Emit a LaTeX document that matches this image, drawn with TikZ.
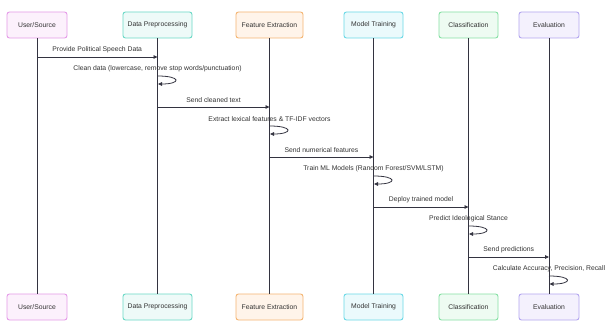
\documentclass[tikz,border=0pt]{standalone}
\usepackage{fontspec}
\setmainfont{Liberation Sans}
\usetikzlibrary{arrows.meta}
\definecolor{ink}{HTML}{333340}
\definecolor{txt}{HTML}{333333}
\definecolor{usb}{HTML}{E59AE8}\definecolor{usf}{HTML}{FCF1FC}
\definecolor{dpb}{HTML}{6AD8C6}\definecolor{dpf}{HTML}{EEFAF8}
\definecolor{feb}{HTML}{F4B572}\definecolor{fef}{HTML}{FFF4EA}
\definecolor{mtb}{HTML}{6AD8E6}\definecolor{mtf}{HTML}{EBFAFC}
\definecolor{clb}{HTML}{86E0A4}\definecolor{clf}{HTML}{EEFBF2}
\definecolor{evb}{HTML}{B3A6EF}\definecolor{evf}{HTML}{F4F1FD}
\tikzset{
  actor/.style={draw=#1, line width=0.9pt, rounded corners=2.5pt, minimum height=26pt, inner sep=0pt,
    font=\fontsize{6.8}{7}\selectfont, text=txt},
  life/.style={draw=ink, line width=0.8pt},
  msg/.style={draw=ink, line width=0.8pt, -{Triangle[length=4pt,width=3.6pt]}},
  lbl/.style={font=\fontsize{6.8}{7}\selectfont, text=txt, inner sep=0pt}
}
\begin{document}
\begin{tikzpicture}[x=1pt,y=-1pt]
\useasboundingbox[fill=white] (0,0) rectangle (606,321);
% top actors
\node[actor=usb, fill=usf, minimum width=60pt] (ut) at (37,25) {User/Source};
\node[actor=dpb, fill=dpf, minimum width=69pt] (dt) at (157.5,25) {Data Preprocessing};
\node[actor=feb, fill=fef, minimum width=67pt] (ft) at (269.5,25) {Feature Extraction};
\node[actor=mtb, fill=mtf, minimum width=59pt] (mt) at (373.5,25) {Model Training};
\node[actor=clb, fill=clf, minimum width=59pt] (ct) at (468.5,25) {Classification};
\node[actor=evb, fill=evf, minimum width=60pt] (et) at (549,25) {Evaluation};
% bottom actors
\node[actor=usb, fill=usf, minimum width=60pt] (ub) at (37,307) {User/Source};
\node[actor=dpb, fill=dpf, minimum width=69pt] (db) at (157.5,307) {Data Preprocessing};
\node[actor=feb, fill=fef, minimum width=67pt] (fb) at (269.5,307) {Feature Extraction};
\node[actor=mtb, fill=mtf, minimum width=59pt] (mb) at (373.5,307) {Model Training};
\node[actor=clb, fill=clf, minimum width=59pt] (cb) at (468.5,307) {Classification};
\node[actor=evb, fill=evf, minimum width=60pt] (eb) at (549,307) {Evaluation};
% lifelines
\foreach \a/\b in {ut/ub,dt/db,ft/fb,mt/mb,ct/cb,et/eb}
  \draw[life] (\a.south) -- (\b.north);
% y levels
\coordinate (y1) at (0,57);
\coordinate (y3) at (0,107);
\coordinate (y5) at (0,157);
\coordinate (y7) at (0,207);
\coordinate (y9) at (0,257);
% messages
\draw[msg] (ut |- y1) -- node[lbl, above=3.8pt] {Provide Political Speech Data} (dt |- y1);
\draw[msg] (dt |- y3) -- node[lbl, above=3.8pt] {Send cleaned text} (ft |- y3);
\draw[msg] (ft |- y5) -- node[lbl, above=3.8pt] {Send numerical features} (mt |- y5);
\draw[msg] (mt |- y7) -- node[lbl, above=3.8pt] {Deploy trained model} (ct |- y7);
\draw[msg] (ct |- y9) -- node[lbl, above=3.8pt] {Send predictions} (et |- y9);
% self messages
\foreach \n/\y/\t in {dt/76/{Clean data (lowercase, remove stop words/punctuation)},
                      ft/126/{Extract lexical features \& TF-IDF vectors},
                      mt/176/{Train ML Models (Random Forest/SVM/LSTM)},
                      ct/226/{Predict Ideological Stance},
                      et/276/{Calculate Accuracy, Precision, Recall}}{
  \coordinate (s\n) at (\n |- 0,\y);
  \node[lbl] (l\n) at ([yshift=7pt]s\n) {\t};
  \draw[msg] (s\n) .. controls ([xshift=24pt]s\n) and ([xshift=24pt,yshift=-8pt]s\n) .. ([xshift=0.5pt,yshift=-8pt]s\n);
}
\end{tikzpicture}
\end{document}
